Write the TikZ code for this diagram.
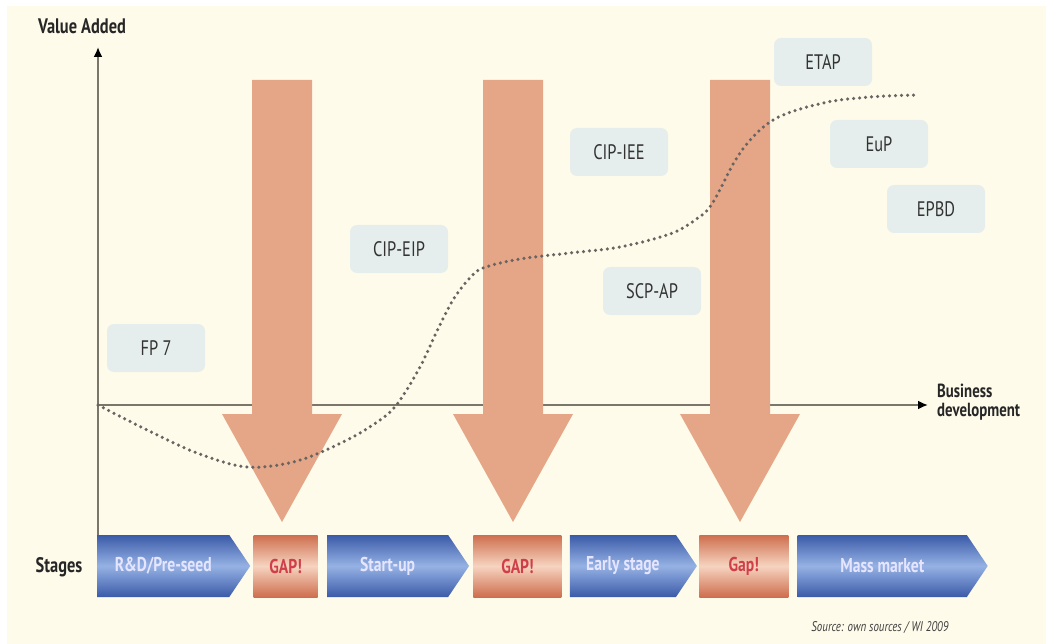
\documentclass[tikz,border=0pt]{standalone}
\usepackage{fontspec}
\setmainfont{PT Sans}[FakeStretch=0.78]
\usetikzlibrary{positioning, shapes.symbols, arrows.meta}
\definecolor{my_cream}{RGB}{254, 251, 234}
\definecolor{my_salmon}{RGB}{228, 166, 134}
\definecolor{my_boxfill}{RGB}{229, 238, 236}
\definecolor{my_blue}{RGB}{58, 90, 168}
\definecolor{my_lightblue}{RGB}{150, 178, 228}
\definecolor{my_rust}{RGB}{206, 110, 78}
\definecolor{my_peach}{RGB}{246, 212, 192}
\definecolor{my_red}{RGB}{208, 62, 72}
\definecolor{my_axis}{RGB}{122, 118, 106}
\definecolor{my_dots}{RGB}{105, 100, 98}
\tikzset {
  progbox/.style = {rectangle, fill=my_boxfill, rounded corners=7pt, minimum width=98pt, minimum height=48pt, text=black!80, font=\fontsize{21}{21}\selectfont},
  stagebox/.style = {signal, signal to=east, signal from=nowhere, signal pointer angle=112, minimum height=62pt, inner sep=0pt,
                     top color=my_blue, bottom color=my_blue, middle color=my_lightblue, text=white!90!blue, font=\bfseries\fontsize{20}{20}\selectfont},
  gapbox/.style = {rectangle, minimum height=62pt, inner sep=0pt,
                   top color=my_rust, bottom color=my_rust, middle color=my_peach, text=my_red, font=\bfseries\fontsize{20}{20}\selectfont},
  axislabel/.style = {font=\bfseries\fontsize{21}{17}\selectfont, text=black!85},
  axisline/.style = {draw=my_axis, line width=2pt, -{Latex[length=10pt, width=9pt, black]}},
  bigarrow/.style = {fill=my_salmon},
  curvedots/.style = {draw=my_dots, line width=3.5pt, line cap=round, dash pattern=on 0pt off 6pt}
}

\begin{document}
\begin{tikzpicture}[x=1pt, y=-1pt]

    \useasboundingbox (0,0) rectangle (1046,644);
    \fill[white] (0,0) rectangle (1046,644);
    \fill[my_cream] (7,6) rectangle (1046,644);

    % axes
    \coordinate (origin) at (98,405);
    \coordinate (ybottom) at (98,536);
    \coordinate (ytop) at (98,47);
    \coordinate (xend) at (928,405);
    \draw[axisline] (origin) -- (xend);
    \draw[axisline] (ybottom) -- (ytop);
    \node[axislabel] (valueadded) at (82,26) {Value Added};
    \node[axislabel, font=\bfseries\fontsize{19}{19.5}\selectfont, anchor=west, align=left, inner sep=0pt] (business) at (937,402) {Business\\development};

    % gap arrows
    \foreach \cx in {282, 513, 740}
      \fill[bigarrow] (\cx-30,80) -- (\cx+30,80) -- (\cx+30,414) -- (\cx+60,414) -- (\cx,522) -- (\cx-60,414) -- (\cx-30,414) -- cycle;

    % value curve
    \draw[curvedots] plot[smooth, tension=0.55] coordinates {(98,405) (147,430) (197,453) (247,467) (297,461) (347,440) (380,420) (398,403) (420,367) (437,331) (453,300) (468,280) (483,268) (520,259) (570,253) (620,247) (670,234) (695,220) (712,204) (740,153) (773,120) (823,103) (870,97) (917,95)};

    % programmes
    \node[progbox] (fp7) at (156,348) {FP 7};
    \node[progbox] (cipeip) at (399,249) {CIP-EIP};
    \node[progbox] (cipiee) at (619,152) {CIP-IEE};
    \node[progbox] (scpap) at (652,291) {SCP-AP};
    \node[progbox] (etap) at (823,62) {ETAP};
    \node[progbox] (eup) at (879,144) {EuP};
    \node[progbox] (epbd) at (936,209) {EPBD};

    % stages
    \node[axislabel] (stages) at (59,567) {Stages};
    \node[stagebox, minimum width=153pt, anchor=west] (rd) at (97,566) {R\&D/Pre-seed};
    \node[gapbox, minimum width=64pt, right=3pt of rd] (gap1) {GAP!};
    \node[stagebox, minimum width=142pt, right=9pt of gap1] (startup) {Start-up};
    \node[gapbox, minimum width=88pt, right=4pt of startup] (gap2) {GAP!};
    \node[stagebox, minimum width=127pt, right=8pt of gap2] (early) {Early stage};
    \node[gapbox, minimum width=89pt, right=2pt of early] (gap3) {Gap!};
    \node[stagebox, minimum width=190pt, right=9pt of gap3] (mass) {Mass market};

    \node[font=\itshape\fontsize{14}{14}\selectfont, text=black!75] (source) at (880,628) {Source: own sources / WI 2009};

\end{tikzpicture}
\end{document}
